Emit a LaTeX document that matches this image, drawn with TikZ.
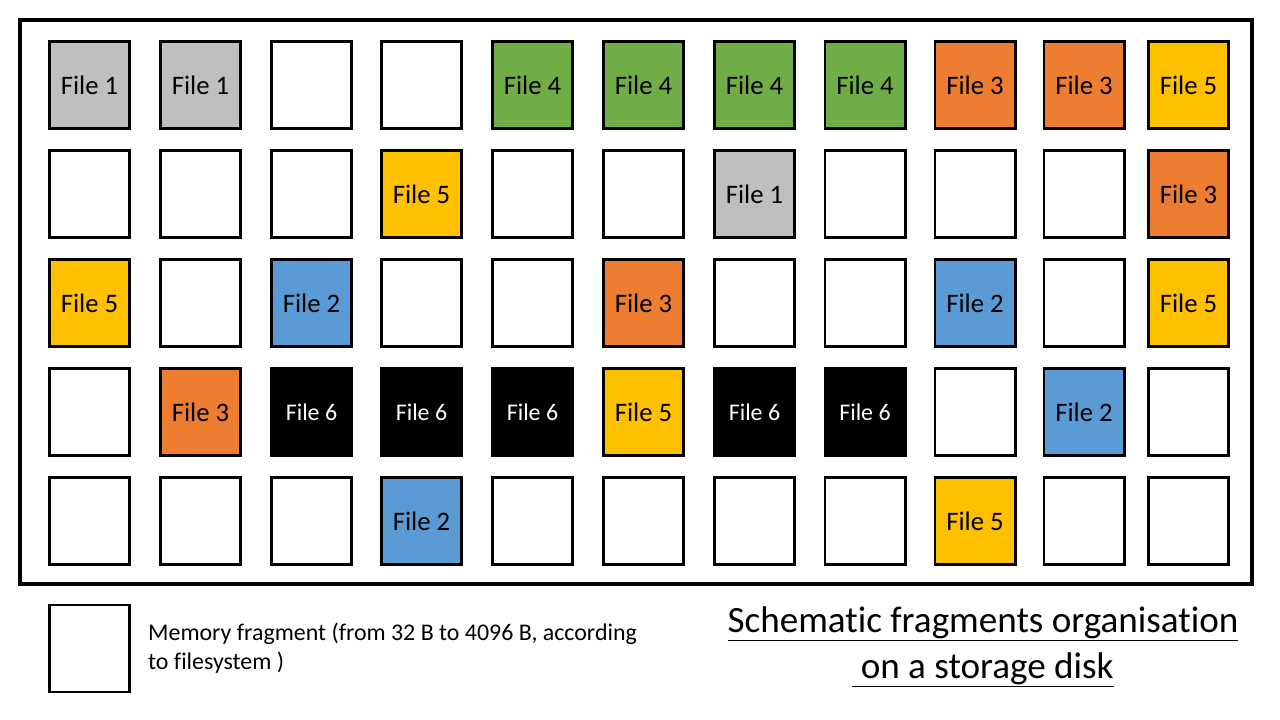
\documentclass[tikz,border=0pt]{standalone}
\usepackage{fontspec}
\setmainfont{Carlito}[Ligatures=NoCommon]
\usetikzlibrary{positioning}
\definecolor{filegray}{HTML}{BFBFBF}
\definecolor{filegreen}{HTML}{70AD47}
\definecolor{fileorange}{HTML}{ED7D31}
\definecolor{fileyellow}{HTML}{FFC000}
\definecolor{fileblue}{HTML}{5B9BD5}
\tikzset{
  frag/.style={
    draw=black,
    line width=2.1pt,
    minimum width=2cm,
    minimum height=2.175cm,
    inner sep=0pt,
    outer sep=0pt,
    font=\fontsize{19}{23}\selectfont
  },
  e/.style={node contents={}},
  f1/.style={fill=filegray, node contents={File 1}},
  f2/.style={fill=fileblue, node contents={File 2}},
  f3/.style={fill=fileorange, node contents={File 3}},
  f4/.style={fill=filegreen, node contents={File 4}},
  f5/.style={fill=fileyellow, node contents={File 5}},
  f6/.style={fill=black, text=white, font=\fontsize{17}{21}\selectfont, node contents={File 6}},
}

\begin{document}
\begin{tikzpicture}[x=0.025cm,y=-0.025cm]
  \useasboundingbox (0,0) rectangle (1280,720);
  \draw [line width=3.5pt] (20,20) rectangle (1252,584);

  % the disk: 5 rows of 11 fragments
  \def\colx{{89.5,200.5,311.5,421.5,532.5,643.5,754.5,865,975,1084,1188.5}}
  \foreach \y/\cells [count=\r] in {
      85/{f1,f1,e,e,f4,f4,f4,f4,f3,f3,f5},
      194/{e,e,e,f5,e,e,f1,e,e,e,f3},
      303/{f5,e,f2,e,e,f3,e,e,f2,e,f5},
      412/{e,f3,f6,f6,f6,f5,f6,f6,e,f2,e},
      521/{e,e,e,f2,e,e,e,e,f5,e,e}}
    \foreach \kind [count=\c] in \cells {
      \pgfmathsetmacro\x{\colx[\c-1]}
      \node (cell-\r-\c) at (\x,\y) [frag,\kind];
    }

  % legend
  \node (legbox) at (89.5,648.5) [frag,e];
  \node [right=0.46cm of legbox, anchor=west, inner sep=0pt, align=left,
         font=\fontsize{17}{20.6}\selectfont] (legtext)
    {Memory fragment (from 32 B to 4096 B, according\\to filesystem )};

  \node [align=center, inner sep=0pt, font=\fontsize{26.4}{32.7}\selectfont] at (983,647) (title)
    {\underline{Schematic fragments organisation}\\\underline{\ on a storage disk}};
\end{tikzpicture}
\end{document}
